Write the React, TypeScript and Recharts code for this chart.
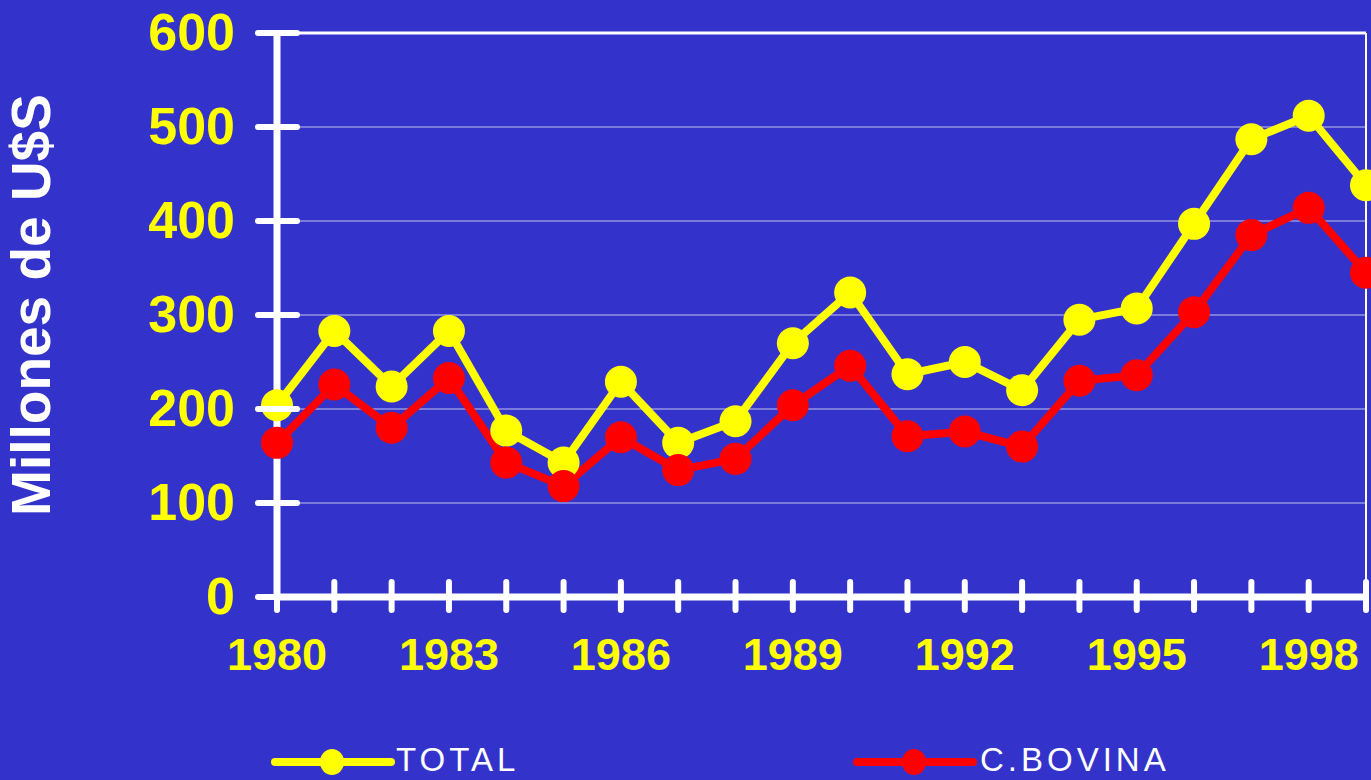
import { LineChart, Line, XAxis, YAxis, CartesianGrid, ReferenceLine } from 'recharts';

// datos (millones de U$S)
const years = [1980, 1981, 1982, 1983, 1984, 1985, 1986, 1987, 1988, 1989, 1990, 1991, 1992, 1993, 1994, 1995, 1996, 1997, 1998, 1999];
const totalValues = [204, 283, 224, 283, 177, 143, 229, 164, 187, 270, 324, 237, 250, 220, 295, 307, 397, 487, 512, 438];
const bovinaValues = [164, 226, 180, 233, 143, 118, 170, 135, 147, 204, 246, 171, 176, 160, 230, 236, 303, 385, 414, 345];
const yTicks = [0, 100, 200, 300, 400, 500, 600];
const labeledYears = [1980, 1983, 1986, 1989, 1992, 1995, 1998];

const series = [
  { key: 'total', name: 'TOTAL', color: '#ffff00' },
  { key: 'bovina', name: 'C.BOVINA', color: '#ff0000' },
];

const data = years.map((year, i) => ({ year, total: totalValues[i], bovina: bovinaValues[i] }));

const BG = '#3333cc';
const FONT = '"Liberation Sans", Arial, Helvetica, sans-serif';

const YTick = (props: any) => {
  const { x, y, payload } = props;
  return (
    <g>
      <line x1={x - 19} x2={x + 20} y1={y} y2={y} stroke="#fff" strokeWidth={6} strokeLinecap="round" />
      <text x={x - 42} y={y + 17} textAnchor="end" fill="#ffff00" fontSize={52} fontWeight="bold" fontFamily={FONT}>
        {payload.value}
      </text>
    </g>
  );
};

const XTick = (props: any) => {
  const { x, y, payload } = props;
  const show = labeledYears.includes(payload.value);
  return (
    <g>
      <line x1={x} x2={x} y1={y - 15} y2={y + 13} stroke="#fff" strokeWidth={6} strokeLinecap="round" />
      {show && (
        <text x={x} y={y + 73} textAnchor="middle" fill="#ffff00" fontSize={45} fontWeight="bold" fontFamily={FONT}>
          {payload.value}
        </text>
      )}
    </g>
  );
};

const YLabel = () => (
  <text
    x={50}
    y={305}
    transform="rotate(-90, 50, 305)"
    textAnchor="middle"
    fill="#fff"
    fontSize={55}
    fontWeight="bold"
    fontFamily={FONT}
  >
    Millones de U$S
  </text>
);

// leyenda inferior
const legendPos = [
  { lineX: 275, textX: 396 },
  { lineX: 857, textX: 980 },
];

function BottomLegend() {
  return (
    <svg width={1371} height={60} style={{ position: 'absolute', left: 0, top: 720 }}>
      {series.map((s, i) => (
        <g key={s.key}>
          <line x1={legendPos[i].lineX} x2={legendPos[i].lineX + 116} y1={42} y2={42} stroke={s.color} strokeWidth={8} strokeLinecap="round" />
          <ellipse cx={legendPos[i].lineX + 57} cy={42} rx={12} ry={13} fill={s.color} />
          <text x={legendPos[i].textX} y={51} fill="#fff" fontSize={33} letterSpacing={4} fontFamily={FONT}>
            {s.name}
          </text>
        </g>
      ))}
    </svg>
  );
}

export default function App() {
  return (
    <div style={{ position: 'absolute', left: 0, top: 0, width: 1371, height: 780, background: BG, overflow: 'hidden', fontFamily: FONT }}>
      <LineChart width={1371} height={780} data={data} margin={{ top: 33, right: 5, bottom: 83, left: 0 }}>
        <CartesianGrid vertical={false} stroke="#c4c4f0" strokeWidth={1} />
        <ReferenceLine y={600} stroke="#fff" strokeWidth={3} />
        <ReferenceLine x={1999} stroke="#fff" strokeWidth={2} />
        <XAxis
          dataKey="year"
          interval={0}
          height={100}
          tickSize={0}
          tickMargin={0}
          tickLine={false}
          tick={<XTick />}
          axisLine={{ stroke: '#fff', strokeWidth: 7 }}
        />
        <YAxis
          domain={[0, 600]}
          ticks={yTicks}
          width={277}
          tickSize={0}
          tickMargin={0}
          tickLine={false}
          tick={<YTick />}
          axisLine={{ stroke: '#fff', strokeWidth: 7 }}
          label={<YLabel />}
        />
        {series.map((s) => (
          <Line
            key={s.key}
            dataKey={s.key}
            name={s.name}
            stroke={s.color}
            strokeWidth={8}
            dot={{ r: 16, fill: s.color, stroke: 'none' }}
            isAnimationActive={false}
          />
        ))}
      </LineChart>
      <BottomLegend />
    </div>
  );
}
